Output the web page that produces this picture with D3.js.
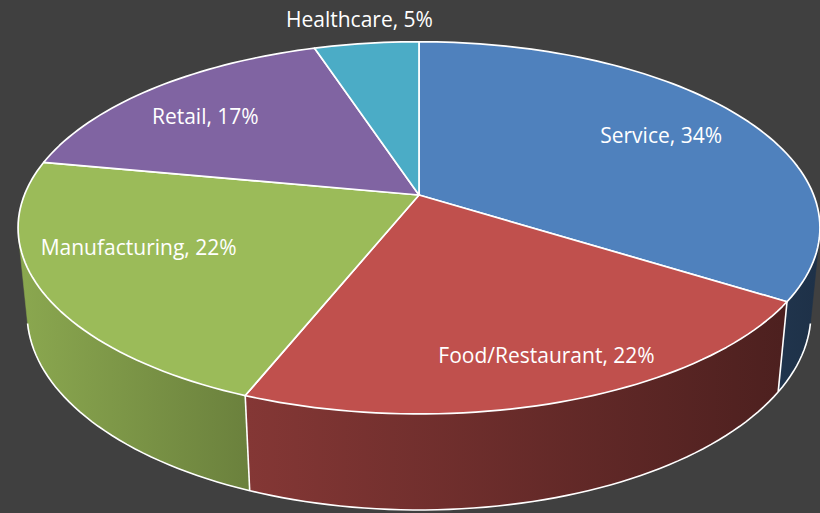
<!DOCTYPE html>
<html>
<head>
<meta charset="utf-8">
<script src="https://cdn.jsdelivr.net/npm/d3@7"></script>
<style>
    html, body { margin: 0; padding: 0; background: #404040; }
    svg { display: block; }
</style>
</head>
<body>
<div id="chart"></div>
<script>
// Data
const categories = ['Service', 'Food/Restaurant', 'Manufacturing', 'Retail', 'Healthcare'];
const values = [34, 22, 22, 17, 5];
const colors = ['#4F81BD', '#C0504D', '#9BBB59', '#8064A2', '#4BACC6'];

// Label placement: radius fraction and angle nudge (degrees) per slice
const labelRadius = [0.74, 0.82, 0.73, 0.75, 1.19];
const labelNudge = [0.5, -1.9, 6.6, -2.8, 0.2];

const width = 820, height = 513;
const cx = 419, cy = 195;

// Simple perspective camera looking down at the pie
const focal = 1989, dist = 5.04;
const sinT = 0.4569, cosT = Math.sqrt(1 - sinT * sinT);
const thick = 0.2452;

// deg: clockwise from 12 o'clock, r: radius fraction, y: height (0 = top face)
function project(deg, r, y) {
    const a = deg * Math.PI / 180;
    const X = r * Math.sin(a), Z = -r * Math.cos(a);
    const yc = y * cosT - Z * sinT;
    const zc = dist - y * sinT - Z * cosT;
    return [cx + focal * X / zc, cy - focal * yc / zc];
}

function arcPoints(a0, a1, r, y) {
    const n = Math.max(2, Math.ceil(Math.abs(a1 - a0) / 1.5));
    return d3.range(n + 1).map(i => project(a0 + (a1 - a0) * i / n, r, y));
}

// side shading as a function of angle
function shade(color, deg) {
    const k = Math.max(0.38, Math.min(0.9, 0.40 + (deg - 122) * 0.00364));
    const c = d3.rgb(color);
    return d3.rgb(c.r * k, c.g * k, c.b * k).formatHex();
}

const toDeg = r => r * 180 / Math.PI;

const pie = d3.pie().sort(null).value(d => d)
    .startAngle(0).endAngle(2 * Math.PI);
const slices = pie(values).map((d, i) => ({
    name: categories[i],
    value: d.value,
    color: colors[i],
    a0: toDeg(d.startAngle),
    a1: toDeg(d.endAngle),
    index: i
}));

const svg = d3.select('#chart')
    .append('svg')
    .attr('width', width)
    .attr('height', height);

svg.append('rect')
    .attr('width', width)
    .attr('height', height)
    .attr('fill', '#404040');

const defs = svg.append('defs');
const line = d3.line();

// visible part of the outer wall
const visA = toDeg(Math.acos(-1 / (dist * cosT)));
const visB = 360 - visA;

const sides = svg.append('g').attr('class', 'sides');
slices.forEach(s => {
    const start = Math.max(s.a0, visA), end = Math.min(s.a1, visB);
    if (start >= end) return;

    const gid = 'side-grad-' + s.index;
    const grad = defs.append('linearGradient')
        .attr('id', gid)
        .attr('gradientUnits', 'userSpaceOnUse')
        .attr('x1', project(start, 1, -thick / 2)[0])
        .attr('x2', project(end, 1, -thick / 2)[0])
        .attr('y1', 0).attr('y2', 0);
    grad.append('stop').attr('offset', '0%').attr('stop-color', shade(s.color, start));
    grad.append('stop').attr('offset', '100%').attr('stop-color', shade(s.color, end));

    const pts = arcPoints(start, end, 1, 0)
        .concat(arcPoints(end, start, 1, -thick));
    sides.append('path')
        .attr('d', line(pts) + 'Z')
        .attr('fill', `url(#${gid})`)
        .attr('stroke', `url(#${gid})`)
        .attr('stroke-width', 0.5);
});

// white edges on the wall
sides.append('path')
    .attr('d', line(arcPoints(visA, visB, 1, -thick)))
    .attr('fill', 'none')
    .attr('stroke', '#ffffff')
    .attr('stroke-width', 1.6);

slices.forEach(s => {
    if (s.a0 > visA && s.a0 < visB) {
        sides.append('path')
            .attr('d', line([project(s.a0, 1, 0), project(s.a0, 1, -thick)]))
            .attr('stroke', '#ffffff')
            .attr('stroke-width', 1.6);
    }
});

// top faces
const tops = svg.append('g').attr('class', 'tops');
slices.forEach(s => {
    const pts = [project(0, 0, 0)].concat(arcPoints(s.a0, s.a1, 1, 0));
    tops.append('path')
        .attr('d', line(pts) + 'Z')
        .attr('fill', s.color)
        .attr('stroke', '#ffffff')
        .attr('stroke-width', 1.7)
        .attr('stroke-linejoin', 'round');
});

// labels
svg.append('g')
    .selectAll('text')
    .data(slices)
    .enter()
    .append('text')
    .attr('x', d => project((d.a0 + d.a1) / 2 + labelNudge[d.index], labelRadius[d.index], 0)[0])
    .attr('y', d => project((d.a0 + d.a1) / 2 + labelNudge[d.index], labelRadius[d.index], 0)[1])
    .attr('dy', '0.35em')
    .attr('text-anchor', 'middle')
    .style('font-family', '"Open Sans", "Noto Sans", sans-serif')
    .style('font-size', '21px')
    .style('fill', '#ffffff')
    .text(d => `${d.name}, ${d.value}%`);
</script>
</body>
</html>
